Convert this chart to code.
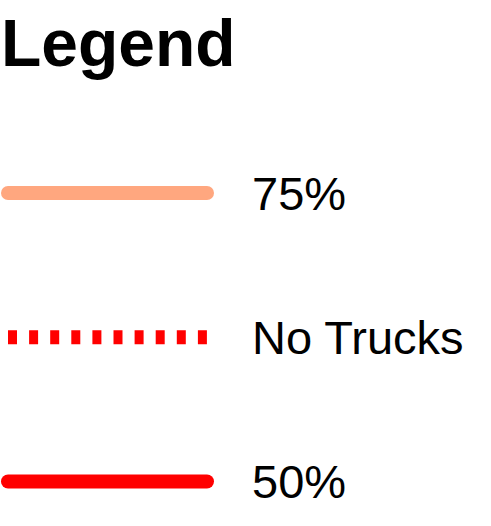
<!DOCTYPE html>
<html>
<head>
<meta charset="utf-8">
<script src="https://cdn.jsdelivr.net/npm/d3@7"></script>
<style>
  html, body { margin: 0; padding: 0; background: #fff; }
</style>
</head>
<body>
<div id="chart"></div>
<script>
const labels = ["75%", "No Trucks", "50%"];
const colors = ["#ffa77f", "#ff0000", "#ff0000"];
const dashed = [false, true, false];

window.onload = function () {
  const width = 491;
  const height = 526;

  const svg = d3
    .select("#chart")
    .append("svg")
    .attr("width", width)
    .attr("height", height);

  const items = labels.map((l, i) => ({ label: l, color: colors[i], dashed: dashed[i] }));

  const y = d3
    .scalePoint()
    .domain(labels)
    .range([193, 481.5]);

  svg
    .append("text")
    .attr("x", 1)
    .attr("y", 66)
    .style("font-family", "'Liberation Sans', Arial, sans-serif")
    .style("font-size", "66px")
    .style("font-weight", "bold")
    .text("Legend");

  const rows = svg
    .selectAll(".item")
    .data(items)
    .enter()
    .append("g")
    .attr("class", "item")
    .attr("transform", (d) => `translate(0, ${y(d.label)})`);

  rows
    .append("line")
    .attr("x1", 8)
    .attr("x2", 207)
    .attr("y1", 0)
    .attr("y2", 0)
    .style("stroke", (d) => d.color)
    .style("stroke-width", 14)
    .style("stroke-linecap", (d) => (d.dashed ? "butt" : "round"))
    .style("stroke-dasharray", (d) => (d.dashed ? "9 12.1" : null));

  rows
    .append("text")
    .attr("x", 252)
    .attr("y", 16.5)
    .style("font-family", "'Liberation Sans', Arial, sans-serif")
    .style("font-size", "47px")
    .text((d) => d.label);
};
</script>
</body>
</html>
